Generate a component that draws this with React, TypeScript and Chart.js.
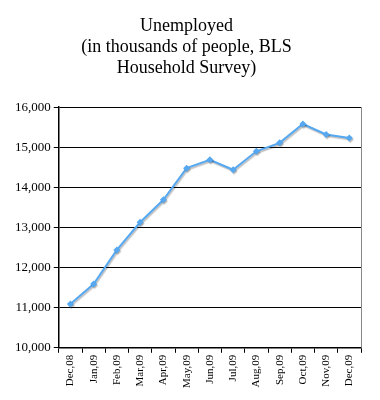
import React, { useEffect, useRef } from "react";
import { Chart, registerables } from "chart.js";

Chart.register(...registerables);

const months = ["Dec,08", "Jan,09", "Feb,09", "Mar,09", "Apr,09", "May,09", "Jun,09", "Jul,09", "Aug,09", "Sep,09", "Oct,09", "Nov,09", "Dec,09"];
const unemployed = [11090, 11590, 12440, 13130, 13690, 14480, 14690, 14440, 14900, 15110, 15580, 15320, 15230];
const titleLines = ["Unemployed", "(in thousands of people, BLS", "Household Survey)"];

const serif = "'Liberation Serif', 'Times New Roman', serif";

export default function App() {
  const ref = useRef<HTMLCanvasElement | null>(null);
  useEffect(() => {
    if (!ref.current) return;
    const frame = {
      id: "frame",
      afterDraw(chart: any) {
        const { ctx, chartArea } = chart;
        ctx.save();
        ctx.strokeStyle = "#888";
        ctx.lineWidth = 1;
        ctx.beginPath();
        ctx.moveTo(Math.round(chartArea.right) + 0.5, chartArea.top);
        ctx.lineTo(Math.round(chartArea.right) + 0.5, chartArea.bottom);
        ctx.stroke();
        ctx.restore();
      },
      beforeDatasetDraw(chart: any) {
        const ctx = chart.ctx;
        ctx.save();
        ctx.shadowColor = "rgba(0,0,0,0.25)";
        ctx.shadowOffsetX = 1;
        ctx.shadowOffsetY = 1.5;
        ctx.shadowBlur = 1;
      },
      afterDatasetDraw(chart: any) {
        chart.ctx.restore();
      },
    };
    const chart = new Chart(ref.current, {
      type: "line",
      data: {
        labels: months,
        datasets: [
          {
            data: unemployed,
            borderColor: "#56a8f0",
            backgroundColor: "#56a8f0",
            borderWidth: 2,
            pointStyle: "rectRot",
            pointRadius: 3.5,
            pointBorderWidth: 0,
            tension: 0,
          },
        ],
      },
      plugins: [frame],
      options: {
        animation: false,
        responsive: false,
        layout: { padding: { left: 12, right: 19, top: 0, bottom: 10 } },
        plugins: {
          legend: { display: false },
          tooltip: { enabled: false },
          title: {
            display: true,
            text: titleLines,
            color: "#000",
            font: { family: serif, size: 18, weight: "normal", lineHeight: 1.17 },
            padding: { top: 16, bottom: 28 },
          },
        },
        scales: {
          x: {
            offset: true,
            grid: { display: true, drawOnChartArea: false, offset: true, tickLength: 5, color: "#000" },
            border: { color: "#000", width: 1.5 },
            ticks: { color: "#000", font: { family: serif, size: 11 }, maxRotation: 90, minRotation: 90, autoSkip: false, padding: 2 },
          },
          y: {
            min: 10000,
            max: 16000,
            grid: { color: "#000", tickLength: 5, lineWidth: 1 },
            border: { color: "#000", width: 1.5 },
            ticks: { stepSize: 1000, color: "#000", font: { family: serif, size: 13 }, padding: 3 },
          },
        },
      },
    });
    return () => chart.destroy();
  }, []);
  return (
    <div style={{ position: "fixed", left: 0, top: 0, width: 380, height: 400, background: "#fff" }}>
      <canvas ref={ref} width={380} height={400} style={{ width: 380, height: 400 }} />
    </div>
  );
}
